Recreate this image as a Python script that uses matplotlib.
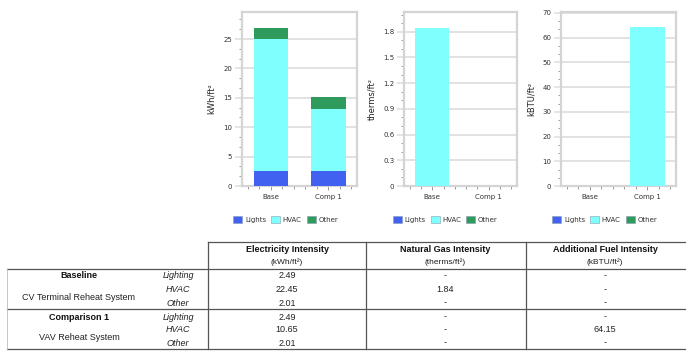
import matplotlib
matplotlib.use("Agg")
import matplotlib.pyplot as plt
from matplotlib.patches import Patch
from matplotlib.ticker import AutoMinorLocator, MultipleLocator, FixedLocator
import numpy as np

# ---- data ----
cases = ["Base", "Comp 1"]
components = ["Lights", "HVAC", "Other"]
elec_lights = [2.49, 2.49]
elec_hvac = [22.45, 10.65]
elec_other = [2.01, 2.01]
gas_lights = [0.0, 0.0]
gas_hvac = [1.84, 0.0]
gas_other = [0.0, 0.0]
fuel_lights = [0.0, 0.0]
fuel_hvac = [0.0, 64.15]
fuel_other = [0.0, 0.0]

ylabels = ["kWh/ft²", "therms/ft²", "kBTU/ft²"]
ymax = [29.6, 2.03, 70.4]
ysteps = [5, 0.3, 10]

row_groups = ["Baseline", "Comparison 1"]
row_systems = ["CV Terminal Reheat System", "VAV Reheat System"]
row_items = ["Lighting", "HVAC", "Other"]
col_titles = ["Electricity Intensity", "Natural Gas Intensity", "Additional Fuel Intensity"]
col_units = ["(kWh/ft²)", "(therms/ft²)", "(kBTU/ft²)"]
table_values = [
    [["2.49", "-", "-"], ["22.45", "1.84", "-"], ["2.01", "-", "-"]],
    [["2.49", "-", "-"], ["10.65", "-", "64.15"], ["2.01", "-", "-"]],
]

colors = ["#4161F0", "#80FFFF", "#2E9A5C"]

W, H = 697, 360
fig = plt.figure(figsize=(W / 100, H / 100), dpi=100)

def fx(px):
    return px / W

def fy(py):
    return 1 - py / H

axes_px = [(242, 357), (404, 517), (561, 676)]
ylabel_px = [216, 376, 536]
legend_anchor = [0.38, 0.365, 0.38]
top_px, bot_px = 12, 186
datasets = [
    (elec_lights, elec_hvac, elec_other),
    (gas_lights, gas_hvac, gas_other),
    (fuel_lights, fuel_hvac, fuel_other),
]
fmt = [lambda v, p: f"{v:g}", lambda v, p: ("0" if v == 0 else f"{v:.1f}"), lambda v, p: f"{v:g}"]

for i, ((x0, x1), data) in enumerate(zip(axes_px, datasets)):
    ax = fig.add_axes([fx(x0), fy(bot_px), fx(x1 - x0), (bot_px - top_px) / H])
    x = np.arange(len(cases))
    bottom = np.zeros(len(cases))
    for vals, c in zip(data, colors):
        vals = np.array(vals)
        ax.bar(x, vals, width=0.6, bottom=bottom, color=c, linewidth=0, zorder=3)
        bottom += vals
    ax.set_xlim(-0.5, 1.5)
    ax.set_ylim(0, ymax[i])
    ax.yaxis.set_major_locator(MultipleLocator(ysteps[i]))
    ax.yaxis.set_minor_locator(AutoMinorLocator(3))
    ax.yaxis.set_major_formatter(plt.FuncFormatter(fmt[i]))
    ax.set_xticks(x)
    ax.set_xticklabels(cases)
    ax.xaxis.set_minor_locator(FixedLocator(np.arange(-0.4, 1.5, 0.2)))
    ax.grid(axis="y", which="major", color="#e2e2e2", linewidth=1.4, zorder=0)
    for s in ax.spines.values():
        s.set_color("#d4d4d4")
        s.set_linewidth(1.6)
    ax.tick_params(axis="y", which="major", length=5, width=1.2, color="#e0e0e0",
                   labelsize=5, labelcolor="#333333", pad=2)
    ax.tick_params(axis="y", which="minor", length=2.5, width=0.6, color="#888888")
    ax.tick_params(axis="x", which="major", length=3, width=0.6, color="#888888",
                   labelsize=5, labelcolor="#333333", pad=3)
    ax.tick_params(axis="x", which="minor", length=2.5, width=0.6, color="#888888")
    ax.set_ylabel(ylabels[i], fontsize=6, color="#222222")
    ax.yaxis.set_label_coords((ylabel_px[i] - x0) / (x1 - x0), 0.5)
    handles = [Patch(facecolor=c, edgecolor="#8899aa", linewidth=0.4) for c in colors]
    ax.legend(handles, components, loc="upper center", bbox_to_anchor=(legend_anchor[i], -0.135),
              ncol=3, frameon=False, fontsize=5, handlelength=1.3, handleheight=1.3,
              handletextpad=0.4, columnspacing=0.7, labelcolor="#333333")

# ---- table ----
tfont = ["Liberation Sans", "DejaVu Sans"]
line_kw = dict(color="#555555", linewidth=0.9)
tab = fig.add_axes([0, 0, 1, 1], facecolor="none")
tab.set_xlim(0, W)
tab.set_ylim(H, 0)
tab.axis("off")

tab.plot([208, 685], [242, 242], **line_kw)
for yy in (269, 309, 349):
    tab.plot([7, 685], [yy, yy], **line_kw)
for xx in (208, 366, 526):
    tab.plot([xx, xx], [242, 349], **line_kw)
tab.plot([7, 7], [269, 349], color="#bbbbbb", linewidth=0.6)

col_x = [287, 445, 605]
for cx, t, u in zip(col_x, col_titles, col_units):
    tab.text(cx, 250, t, ha="center", va="center", fontsize=6.5, fontweight="bold",
             family=tfont, color="#111111")
    tab.text(cx, 262, u, ha="center", va="center", fontsize=6, family=tfont, color="#222222")

row_y = [[276, 290, 303], [317, 330, 343]]
sys_y = [297, 337]
for g in range(2):
    tab.text(79, row_y[g][0], row_groups[g], ha="center", va="center", fontsize=6.5,
             fontweight="bold", family=tfont, color="#111111")
    tab.text(79, sys_y[g], row_systems[g], ha="center", va="center", fontsize=6.5,
             family=tfont, color="#222222")
    for r in range(3):
        tab.text(178, row_y[g][r], row_items[r], ha="center", va="center", fontsize=6.5,
                 style="italic", family=tfont, color="#222222")
        for c in range(3):
            tab.text(col_x[c], row_y[g][r], table_values[g][r][c], ha="center", va="center",
                     fontsize=6.5, family=tfont, color="#222222")

fig.savefig("out.png", dpi=100)
